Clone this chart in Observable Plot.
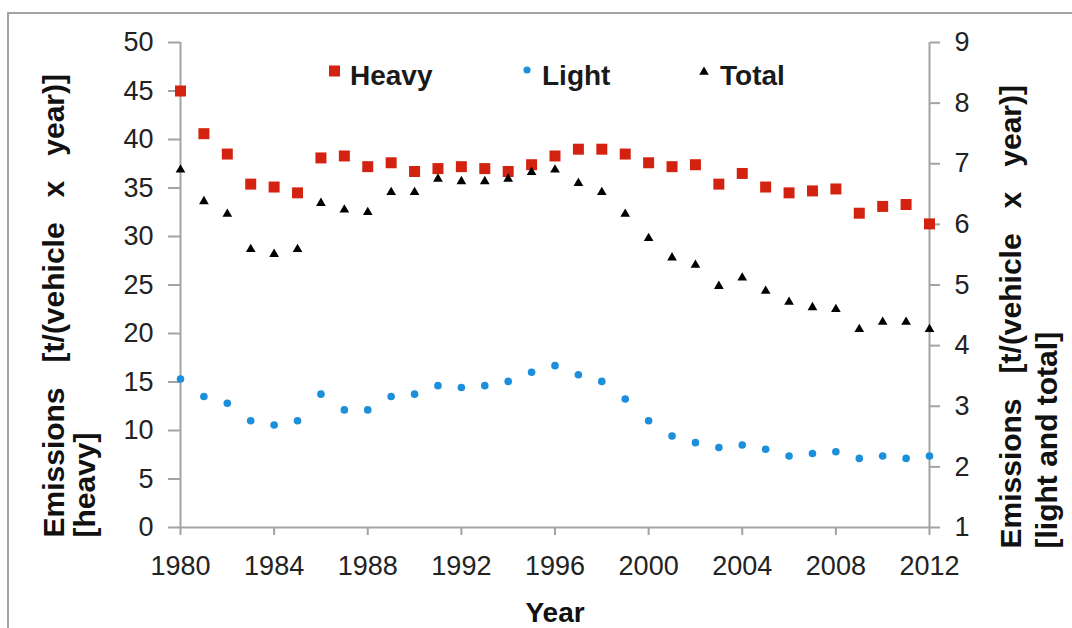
<!DOCTYPE html>
<html>
<head>
<meta charset="utf-8">
<script src="https://cdn.jsdelivr.net/npm/d3@7"></script>
<script src="https://cdn.jsdelivr.net/npm/@observablehq/plot@0.6"></script>
<style>
  html, body { margin: 0; padding: 0; background: #fff; overflow: hidden; }
  #wrap { position: relative; width: 1072px; height: 628px; overflow: hidden; font-family: "Liberation Sans", Arial, sans-serif; }
  #frame { position: absolute; left: 7px; top: 12px; width: 1300px; height: 900px; border: 2px solid #a3a3a3; box-sizing: border-box; }
  #chart { position: absolute; left: 0; top: 0; }
  #legend { position: absolute; left: 0; top: 0; pointer-events: none; }
</style>
</head>
<body>
<div id="wrap">
  <div id="frame"></div>
  <div id="chart"></div>
  <svg id="legend" width="1072" height="628"></svg>
</div>
<script>
// ---- data ----
const years = [1980,1981,1982,1983,1984,1985,1986,1987,1988,1989,1990,1991,1992,1993,1994,1995,1996,1997,1998,1999,2000,2001,2002,2003,2004,2005,2006,2007,2008,2009,2010,2011,2012];
const heavy = [45.0,40.6,38.5,35.4,35.1,34.5,38.1,38.3,37.2,37.6,36.7,37.0,37.2,37.0,36.7,37.4,38.3,39.0,39.0,38.5,37.6,37.2,37.4,35.4,36.5,35.1,34.5,34.7,34.9,32.4,33.1,33.3,31.3];
const light = [3.45,3.16,3.05,2.76,2.69,2.76,3.20,2.94,2.94,3.16,3.20,3.34,3.31,3.34,3.41,3.56,3.67,3.52,3.41,3.12,2.76,2.51,2.40,2.32,2.36,2.29,2.18,2.22,2.25,2.14,2.18,2.14,2.18];
const total = [6.90,6.38,6.17,5.59,5.51,5.59,6.35,6.24,6.20,6.53,6.53,6.75,6.71,6.71,6.75,6.86,6.90,6.68,6.53,6.17,5.77,5.45,5.33,4.98,5.12,4.90,4.72,4.63,4.60,4.27,4.39,4.39,4.27];
const xTicks = [1980,1984,1988,1992,1996,2000,2004,2008,2012];
const leftTicks = [0,5,10,15,20,25,30,35,40,45,50];
const rightTicks = [1,2,3,4,5,6,7,8,9];
const seriesNames = ["Heavy","Light","Total"];
const leftTitle = ["Emissions\u00a0\u00a0\u00a0[t/(vehicle\u00a0\u00a0\u00a0x\u00a0\u00a0\u00a0year)]", "[heavy]"];
const rightTitle = ["Emissions\u00a0\u00a0\u00a0[t/(vehicle\u00a0\u00a0\u00a0x\u00a0\u00a0\u00a0year)]", "[light and total]"];
const xTitle = "Year";

// right axis (1..9) mapped onto left scale (0..50)
const rLo = 1, rHi = 9, lLo = 0, lHi = 50;
const toLeft = v => lLo + (v - rLo) * (lHi - lLo) / (rHi - rLo);
const toRight = v => rLo + (v - lLo) * (rHi - rLo) / (lHi - lLo);

const heavyData = years.map((y, i) => ({year: y, v: heavy[i]}));
const lightData = years.map((y, i) => ({year: y, v: toLeft(light[i])}));
const totalData = years.map((y, i) => ({year: y, v: toLeft(total[i])}));

const RED = "#d3220f", BLUE = "#1b8fdb", BLACK = "#000";
const AX = "#a3a3a3", TXT = "#222";
const FONT = "'Liberation Sans', Arial, sans-serif";

const chart = Plot.plot({
  width: 1072,
  height: 628,
  marginLeft: 180,
  marginRight: 143,
  marginTop: 42,
  marginBottom: 101,
  style: {fontFamily: FONT, fontSize: "27px", background: "transparent", overflow: "visible"},
  x: {domain: [1980, 2012], axis: null},
  y: {domain: [0, 50], axis: null},
  marks: [
    Plot.axisX({ticks: xTicks, tickFormat: d => String(d), tickSize: 8, tickPadding: 20, stroke: AX, strokeWidth: 2, fill: TXT, fontSize: 27, label: null}),
    Plot.axisY({anchor: "left", ticks: leftTicks, tickFormat: d => String(d), tickSize: 12, tickPadding: 15, stroke: AX, strokeWidth: 2, fill: TXT, fontSize: 27, label: null}),
    Plot.axisY({anchor: "right", ticks: rightTicks.map(toLeft), tickFormat: d => String(Math.round(toRight(d))), tickSize: 10, tickPadding: 15, stroke: AX, strokeWidth: 2, fill: TXT, fontSize: 27, label: null}),
    Plot.ruleY([0], {stroke: AX, strokeWidth: 2}),
    Plot.ruleX([1980, 2012], {stroke: AX, strokeWidth: 2}),
    Plot.dot(heavyData, {x: "year", y: "v", symbol: "square", r: 6.2, fill: RED, stroke: "none"}),
    Plot.dot(lightData, {x: "year", y: "v", symbol: "circle", r: 3.8, fill: BLUE, stroke: "none"}),
    Plot.dot(totalData, {x: "year", y: "v", symbol: "triangle", r: 3.6, fill: BLACK, stroke: "none"}),
    Plot.text([leftTitle[0]], {text: d => d, frameAnchor: "bottom-left", rotate: -90, textAnchor: "start", lineAnchor: "bottom", dx: -117, dy: 10, fontSize: 30, fontWeight: "bold", fill: "#111"}),
    Plot.text([leftTitle[1]], {text: d => d, frameAnchor: "bottom-left", rotate: -90, textAnchor: "start", lineAnchor: "bottom", dx: -86, dy: 10, fontSize: 30, fontWeight: "bold", fill: "#111"}),
    Plot.text([rightTitle[0]], {text: d => d, frameAnchor: "bottom-right", rotate: -90, textAnchor: "start", lineAnchor: "bottom", dx: 91, dy: 21, fontSize: 30, fontWeight: "bold", fill: "#111"}),
    Plot.text([rightTitle[1]], {text: d => d, frameAnchor: "bottom-right", rotate: -90, textAnchor: "start", lineAnchor: "bottom", dx: 127, dy: 21, fontSize: 30, fontWeight: "bold", fill: "#111"}),
    Plot.text([xTitle], {text: d => d, frameAnchor: "bottom", lineAnchor: "bottom", dy: 94, fontSize: 28, fontWeight: "bold", fill: "#111"})
  ]
});
document.getElementById("chart").appendChild(chart);

// ---- legend (inside the plot area, top) ----
const lg = d3.select("#legend");
const items = [
  {name: seriesNames[0], sym: d3.symbolSquare, size: 121, color: RED, sx: 334.5, sy: 71, tx: 350},
  {name: seriesNames[1], sym: d3.symbolCircle, size: 40, color: BLUE, sx: 527, sy: 70, tx: 542},
  {name: seriesNames[2], sym: d3.symbolTriangle, size: 40, color: BLACK, sx: 704, sy: 72, tx: 720}
];
items.forEach(it => {
  lg.append("path").attr("d", d3.symbol(it.sym, it.size)()).attr("transform", `translate(${it.sx},${it.sy})`).attr("fill", it.color);
  lg.append("text").attr("x", it.tx).attr("y", 85).attr("font-family", FONT).attr("font-size", 28).attr("font-weight", "bold").attr("fill", "#1a1a1a").text(it.name);
});
</script>
</body>
</html>
